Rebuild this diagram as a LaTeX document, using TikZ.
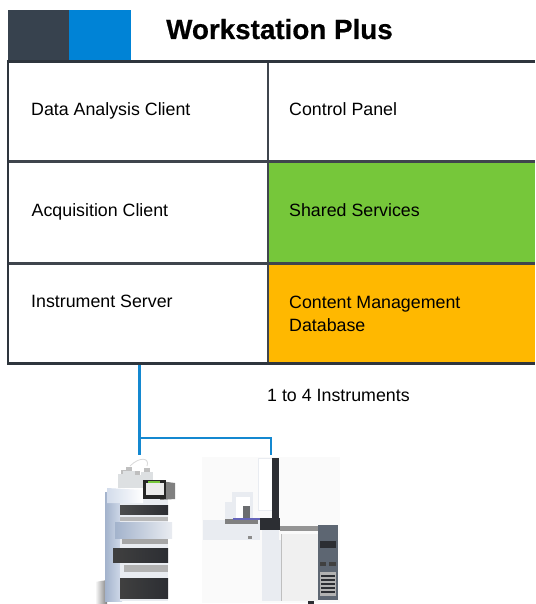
\documentclass[tikz,border=0pt]{standalone}
\usepackage{fontspec}
\setmainfont{Liberation Sans}
\newfontfamily\titlefont[FakeBold=0.6]{Liberation Sans Bold}
\definecolor{slatec}{HTML}{37424E}
\definecolor{blueh}{HTML}{0083D6}
\definecolor{linec}{HTML}{2E353D}
\definecolor{midline}{HTML}{3F454D}
\definecolor{wire}{HTML}{1488D0}
\definecolor{greenc}{HTML}{76C73A}
\definecolor{orangec}{HTML}{FFB800}
\definecolor{steelc}{HTML}{D3DCEB}
\definecolor{steeld}{HTML}{A3B3CC}
\definecolor{darkm}{HTML}{2C2E33}
\definecolor{palec}{HTML}{E9ECF1}
\definecolor{panelc}{HTML}{5D6672}
\definecolor{glassc}{HTML}{DDE0E2}
\tikzset{
  lbl/.style={anchor=base west,inner sep=0pt,font=\fontsize{17.8}{23.5}\selectfont,text=black,align=left},
  wireln/.style={draw=wire,line width=2.3pt},
}
\begin{document}
\begin{tikzpicture}[x=1pt,y=-1pt]
\useasboundingbox (0,0) rectangle (535,604);
\fill[white] (0,0) rectangle (535,604);
% header
\fill[slatec] (8,10) rectangle (69,60);
\fill[blueh] (69,10) rectangle (131,60);
\node[anchor=base west,inner sep=0pt,font=\titlefont\fontsize{27.8}{30}\selectfont] (title) at (166,39) {Workstation Plus};
% fills
\fill[greenc] (268,162) rectangle (535,263);
\fill[orangec] (268,264) rectangle (535,363);
% table
\draw[midline,line width=1.5pt] (268,61) -- (268,363);
\draw[midline,line width=2.2pt] (8,161.5) -- (535,161.5);
\draw[midline,line width=2.2pt] (8,263.5) -- (535,263.5);
\draw[linec,line width=2.6pt] (535,61.5) -- (8,61.5) -- (8,363.5) -- (535,363.5);
\node[lbl] (dac) at (31,116) {Data Analysis Client};
\node[lbl] (cp) at (289,116) {Control Panel};
\node[lbl] (ac) at (31.5,216) {Acquisition Client};
\node[lbl] (ss) at (289,216) {Shared Services};
\node[lbl] (is) at (31,307) {Instrument Server};
\node[lbl] (cm) at (289,308) {Content Management};
\node[lbl] (db) at (289,331) {Database};
\node[lbl] (n) at (267,401) {1 to 4 Instruments};
% connectors
\coordinate (top) at (139.5,365);
\coordinate (hplc) at (139.5,455);
\coordinate (junc) at (139.5,438);
\coordinate (gctop) at (271,455);
\draw[wireln] (top) -- (hplc);
\draw[wireln] (junc) -- (gctop |- junc) -- (gctop);
% GC instrument
\fill[white!98!black] (202,457) rectangle (340,603);
\fill[white] (258,458) rectangle (272,510);
\draw[palec,line width=.6pt] (258,458) rectangle (272,510);
\fill[darkm] (272,458) rectangle (279,520);
\fill[palec] (225,502) rectangle (237,520);
\fill[palec] (232,492) rectangle (253,518);
\fill[white] (236,497) rectangle (250,518);
\fill[darkm!70] (243,506) rectangle (250,518);
\fill[palec] (203,520) rectangle (260,540);
\fill[black!50] (225,519) rectangle (258,524);
\fill[blue!55!black!60] (233,518) rectangle (260,520);
\fill[black!45] (248,536) rectangle (252,539);
\fill[darkm] (260,518) rectangle (280,530);
\fill[palec] (262,530) rectangle (279,540);
\fill[palec] (262,540) rectangle (318,601);
\fill[white!94!black] (281,534) rectangle (318,601);
\draw[black!25,line width=.5pt] (281,534) -- (281,601);
\fill[black!42] (280,526) rectangle (318,531);
\fill[panelc] (318,525) rectangle (338,600);
\fill[darkm] (320,541) rectangle (336,548);
\fill[black!75] (320,562) rectangle (326,566);
\fill[black!75] (329,562) rectangle (336,566);
\fill[white!70!black] (320,572) rectangle (336,596);
\foreach \q in {575,579,583,587,591}
  \fill[darkm] (321,\q) rectangle (335,\q+1.5);
\fill[darkm] (308,601) rectangle (314,604);
% HPLC stack
\shade[left color=white,right color=black!50] (95,582) -- (107,580) -- (107,604) -- (95,604) -- cycle;
\shade[left color=steeld,right color=steelc] (105,492) rectangle (122,601);
\fill[palec] (120,490) rectangle (168,601);
\shade[left color=steelc,right color=white] (107,488) -- (143,490) -- (143,503) -- (107,503) -- cycle;
\shade[left color=black!70,right color=darkm] (120,505) rectangle (168,514);
\fill[black!28] (120,517) rectangle (168,521);
\shade[left color=steeld,right color=palec] (115,522) rectangle (172,538);
\fill[black!35] (122,539) rectangle (168,544);
\shade[left color=black!75,right color=darkm] (113,548) rectangle (168,562);
\fill[black!30] (124,565) rectangle (168,572);
\shade[left color=black!75,right color=darkm] (120,578) rectangle (168,598);
% bottles
\foreach \xa/\ya in {124/474,137/475,147/472,129/471}{
  \fill[glassc] (\xa-6,\ya) rectangle (\xa+6,488);
  \fill[black!25] (\xa-3,\ya-4) rectangle (\xa+3,\ya);
}
\draw[black!15,line width=.8pt] (130,466) .. controls (140,456) and (150,458) .. (147,466);
% display
\fill[black!50] (160,481) -- (175,483) -- (175,499) -- (160,500) -- cycle;
\fill[black!85] (143,480) rectangle (166,499);
\fill[white!92!black] (146,483) rectangle (164,495);
\fill[greenc] (148,480.5) rectangle (160,482.5);
\end{tikzpicture}
\end{document}
